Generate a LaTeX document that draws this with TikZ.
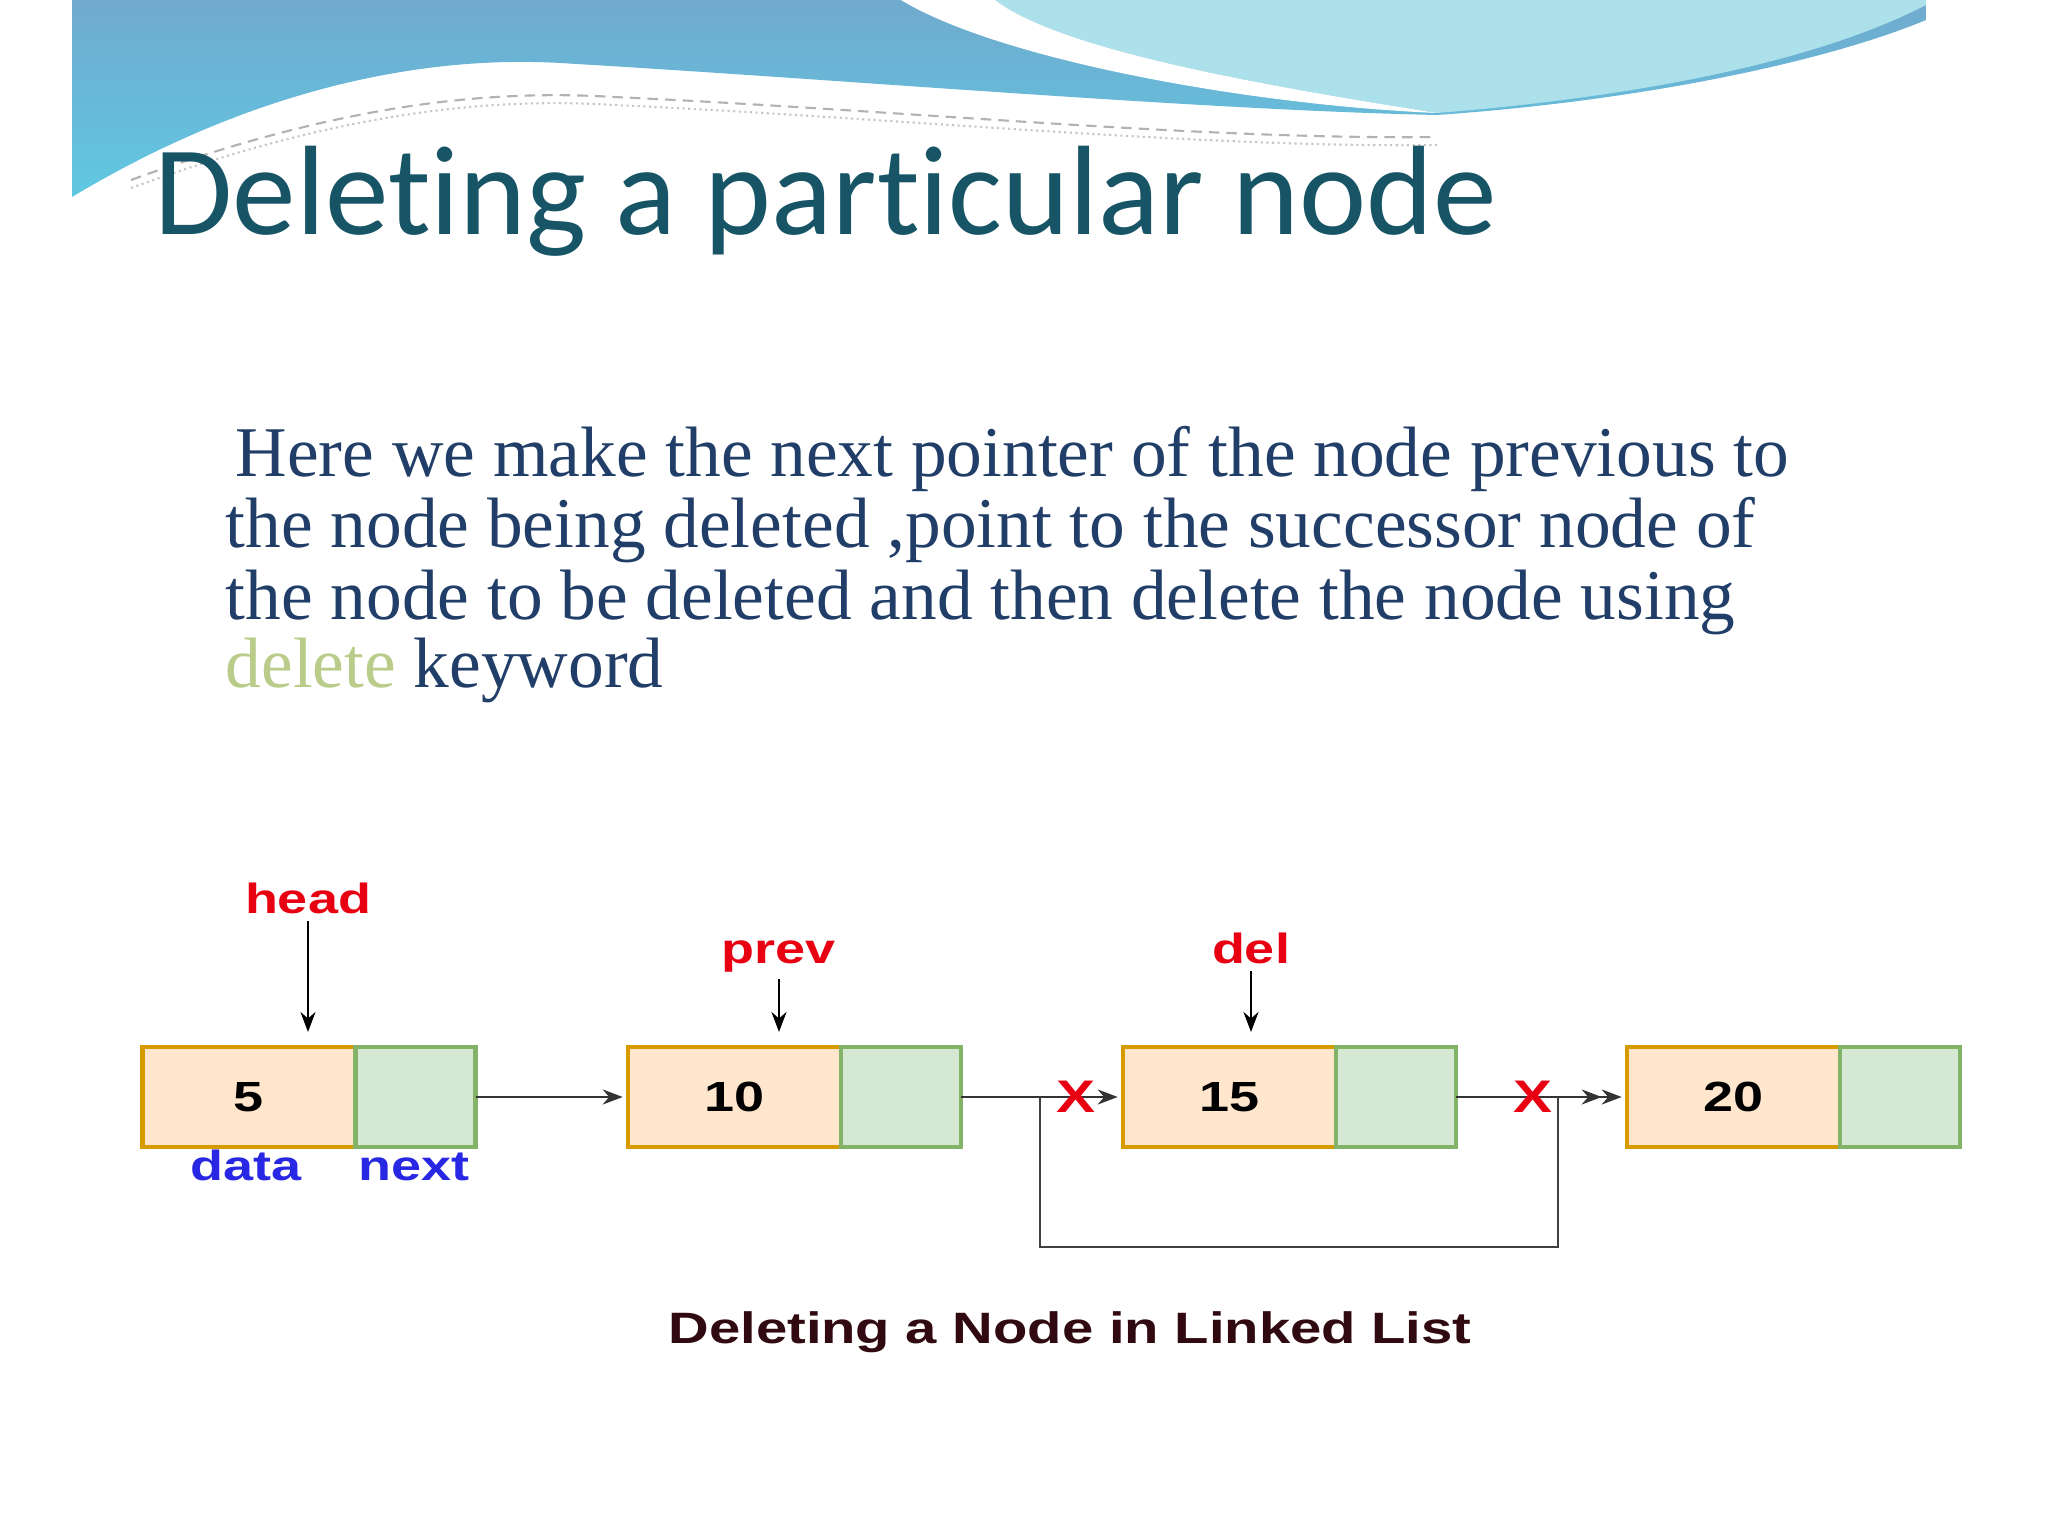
\documentclass[tikz,border=0pt]{standalone}
\usepackage{fontspec}
\usetikzlibrary{arrows.meta,positioning}
\setmainfont{Liberation Serif}
\newfontfamily\titlefont[Ligatures=NoCommon]{Carlito}
\newfontfamily\diagfont[FakeStretch=1.28]{Liberation Sans}
\definecolor{TitleTeal}{RGB}{22,84,102}
\definecolor{BodyBlue}{RGB}{32,62,104}
\definecolor{KeyGreen}{RGB}{186,204,138}
\definecolor{PtrRed}{RGB}{232,0,18}
\definecolor{FieldBlue}{RGB}{40,40,228}
\definecolor{CaptionRed}{RGB}{48,10,16}
\definecolor{DataFill}{HTML}{FFE6CC}
\definecolor{DataEdge}{HTML}{D79B00}
\definecolor{NextFill}{HTML}{D5E8D4}
\definecolor{NextEdge}{HTML}{82B366}
\definecolor{WaveBlue}{RGB}{112,170,206}
\definecolor{WaveCyan}{RGB}{96,200,226}
\definecolor{WaveLight}{RGB}{172,224,234}
\tikzset{
  databox/.style={draw=DataEdge,fill=DataFill,line width=1.2pt,
    minimum width=2.13cm,minimum height=1.0cm,outer sep=0pt,inner sep=0pt,
    font=\diagfont\bfseries\fontsize{12}{12}\selectfont},
  nextbox/.style={draw=NextEdge,fill=NextFill,line width=1.2pt,
    minimum width=1.2cm,minimum height=1.0cm,outer sep=0pt,inner sep=0pt},
  link/.style={-{Stealth[length=2mm,width=1.5mm]},line width=0.7pt,
    draw=black!80,shorten >=1.5pt},
  dbllink/.style={-{Stealth[length=2mm,width=1.5mm]Stealth[length=2mm,width=1.5mm]},
    line width=0.7pt,draw=black!80,shorten >=1.5pt},
  bypass/.style={line width=0.7pt,draw=black!75},
  ptr/.style={-{Stealth[length=2mm,width=1.5mm]},line width=0.7pt,
    draw=black,shorten >=1.5mm},
  ptrlabel/.style={text=PtrRed,inner sep=2pt,
    font=\diagfont\bfseries\fontsize{12}{12}\selectfont},
  fieldlabel/.style={text=FieldBlue,anchor=base,
    font=\diagfont\bfseries\fontsize{12}{12}\selectfont},
  crossmark/.style={text=PtrRed,inner sep=0pt,
    font=\diagfont\bfseries\fontsize{13}{13}\selectfont},
  bodyline/.style={anchor=base west,text=BodyBlue,inner sep=0pt,
    font=\fontsize{20.3}{20.3}\selectfont},
}

\begin{document}
\begin{tikzpicture}
  \fill[white] (0,0) rectangle (20.48,-15.36);
  \useasboundingbox (0,0) rectangle (20.48,-15.36);

  % wave at the top of the slide
  \shade[top color=WaveBlue,bottom color=WaveCyan]
    (0.72,0) -- (19.26,0) -- (19.26,-0.2)
    .. controls (18.3,-0.6) and (16.5,-1.0) .. (14.37,-1.15)
    .. controls (12.0,-1.1) and (8.5,-0.8) .. (5.6,-0.63)
    .. controls (4.2,-0.55) and (2.5,-0.9) .. (0.72,-1.97) -- cycle;
  \fill[WaveLight]
    (9.95,0) -- (19.26,0) -- (19.26,-0.05)
    .. controls (18.0,-0.7) and (16.0,-1.0) .. (14.37,-1.13)
    .. controls (12.6,-0.85) and (10.6,-0.5) .. (9.95,0) -- cycle;
  \fill[white]
    (9.01,0) .. controls (10.0,-0.6) and (12.5,-1.05) .. (14.37,-1.13)
    .. controls (12.6,-0.85) and (10.6,-0.5) .. (9.95,0) -- cycle;
  \draw[gray!60,densely dashed,line width=0.6pt]
    (1.31,-1.80) .. controls (3.5,-1.0) and (5.0,-0.9) .. (6.14,-0.97)
    .. controls (9,-1.1) and (12,-1.4) .. (14.37,-1.37);
  \draw[gray!45,densely dotted,line width=0.6pt]
    (1.31,-1.88) .. controls (3.5,-1.08) and (5.0,-0.98) .. (6.14,-1.05)
    .. controls (9,-1.18) and (12,-1.48) .. (14.37,-1.45);

  % title and text
  \node[anchor=base west,inner sep=0pt,text=TitleTeal,
        font=\titlefont\fontsize{36.2}{36.2}\selectfont] (title) at (1.54,-2.35)
        {Deleting a particular node};
  \node[bodyline] (line1) at (2.35,-4.77) {Here we make the next pointer of the node previous to};
  \node[bodyline] (line2) at (2.25,-5.48) {the node being deleted ,point to the successor node of};
  \node[bodyline] (line3) at (2.25,-6.20) {the node to be deleted and then delete the node using};
  \node[bodyline] (line4) at (2.25,-6.88) {\textcolor{KeyGreen}{delete} keyword};

  % the list
  \node[databox] (d1) at (2.49,-10.97) {5};
  \node[nextbox,right=0pt of d1] (n1) {};
  \node[databox] (d2) at (7.345,-10.97) {10};
  \node[nextbox,right=0pt of d2] (n2) {};
  \node[databox] (d3) at (12.295,-10.97) {15};
  \node[nextbox,right=0pt of d3] (n3) {};
  \node[databox] (d4) at (17.335,-10.97) {20};
  \node[nextbox,right=0pt of d4] (n4) {};

  \node[fieldlabel] (data) at (2.46,-11.80) {data};
  \node[fieldlabel] (next) at (4.14,-11.80) {next};

  \node[ptrlabel,anchor=base] (head) at (3.08,-9.13) {head};
  \node[ptrlabel,anchor=base] (prev) at (7.79,-9.63) {prev};
  \node[ptrlabel,anchor=base] (del) at (12.51,-9.63) {del};
  \draw[ptr] (head) -- (head |- d1.north);
  \draw[ptr] (prev) -- (prev |- d2.north);
  \draw[ptr] (del) -- (del |- d3.north);

  \draw[link] (n1) -- (d2);
  \draw[link] (n2) -- node[crossmark,pos=0.71] (x1) {X} (d3);
  \draw[dbllink] (n3) -- node[crossmark,pos=0.45] (x2) {X} (d4);

  \coordinate (byL) at (10.40,-10.97);
  \coordinate (byR) at (15.58,-10.97);
  \draw[bypass] (byL) -- ++(0,-1.5) -| (byR);

  \node[anchor=base,text=CaptionRed,
        font=\diagfont\bfseries\fontsize{12.5}{12.5}\selectfont] (caption) at (10.70,-13.43)
        {Deleting a Node in Linked List};
\end{tikzpicture}
\end{document}
